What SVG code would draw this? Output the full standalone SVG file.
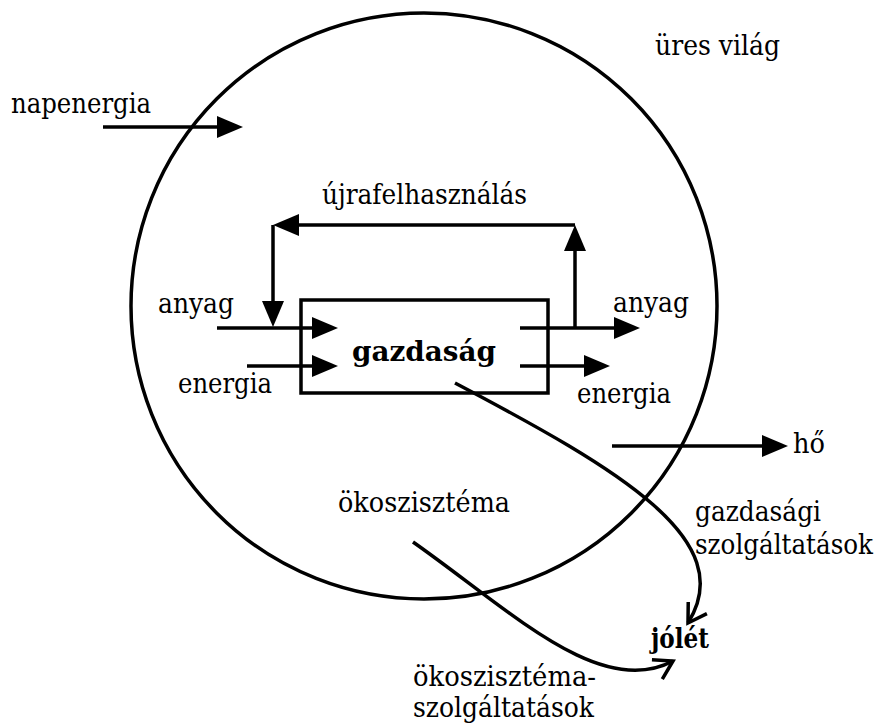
<svg xmlns="http://www.w3.org/2000/svg" width="881" height="724" viewBox="0 0 881 724">
<style>
text{font-family:'DejaVu Serif',serif;font-size:28px;fill:#000}
.b{font-weight:bold}
.ln{fill:none;stroke:#000;stroke-width:3.5}
</style>
<defs>
<marker id="ah" markerUnits="userSpaceOnUse" markerWidth="26" markerHeight="22" viewBox="0 0 26 22" refX="10" refY="11" orient="auto" overflow="visible">
<path d="M0,0 L26,11 L0,22 z" fill="#000"/>
</marker>
<marker id="oh" markerUnits="userSpaceOnUse" markerWidth="24" markerHeight="24" viewBox="0 0 24 24" refX="20" refY="12" orient="auto" overflow="visible">
<path d="M2,1 L20,12 L2,23" fill="none" stroke="#000" stroke-width="3.5"/>
</marker>
</defs>
<rect width="881" height="724" fill="#fff"/>
<g id="world">
<circle cx="424" cy="306" r="293" class="ln"/>
<text x="655" y="55" textLength="125" lengthAdjust="spacingAndGlyphs">üres világ</text>
</g>
<g id="economy">
<rect x="301" y="300" width="247" height="93" class="ln"/>
<text class="b" x="352" y="361" font-size="35" textLength="144" lengthAdjust="spacingAndGlyphs">gazdaság</text>
</g>
<g id="labels">
<text x="11" y="113" textLength="140" lengthAdjust="spacingAndGlyphs">napenergia</text>
<text x="322" y="204" textLength="205" lengthAdjust="spacingAndGlyphs">újrafelhasználás</text>
<text x="158" y="313" textLength="76" lengthAdjust="spacingAndGlyphs">anyag</text>
<text x="178" y="393" textLength="94" lengthAdjust="spacingAndGlyphs">energia</text>
<text x="613" y="312" textLength="76" lengthAdjust="spacingAndGlyphs">anyag</text>
<text x="577" y="403" textLength="94" lengthAdjust="spacingAndGlyphs">energia</text>
<text x="793" y="453" textLength="32" lengthAdjust="spacingAndGlyphs">hő</text>
<text x="338" y="512" textLength="172" lengthAdjust="spacingAndGlyphs">ökoszisztéma</text>
<text x="695" y="521" textLength="126" lengthAdjust="spacingAndGlyphs">gazdasági</text>
<text x="695" y="554" font-size="25.5" textLength="178" lengthAdjust="spacingAndGlyphs">szolgáltatások</text>
<text x="413" y="686" textLength="183" lengthAdjust="spacingAndGlyphs">ökoszisztéma-</text>
<text x="413" y="717" textLength="181" lengthAdjust="spacingAndGlyphs">szolgáltatások</text>
</g>
<g id="wellbeing">
<text class="b" x="651" y="648" textLength="58" lengthAdjust="spacingAndGlyphs">jólét</text>
</g>
<g id="connectors">
<path class="ln" d="M103,127 L227,127" marker-end="url(#ah)"/>
<path class="ln" d="M575,328 L575,241" marker-end="url(#ah)"/>
<path class="ln" d="M575,225 L289,225" marker-end="url(#ah)"/>
<path class="ln" d="M273,225 L273,311" marker-end="url(#ah)"/>
<path class="ln" d="M217,328 L322,328" marker-end="url(#ah)"/>
<path class="ln" d="M247,366 L322,366" marker-end="url(#ah)"/>
<path class="ln" d="M520,328 L624,328" marker-end="url(#ah)"/>
<path class="ln" d="M520,366 L594,366" marker-end="url(#ah)"/>
<path class="ln" d="M612,446 L772,446" marker-end="url(#ah)"/>
<path class="ln" d="M455,383 C620,470 740,540 688,623" marker-end="url(#oh)"/>
<path class="ln" d="M413,542 C510,610 600,700 673,661" marker-end="url(#oh)"/>
</g>
</svg>
